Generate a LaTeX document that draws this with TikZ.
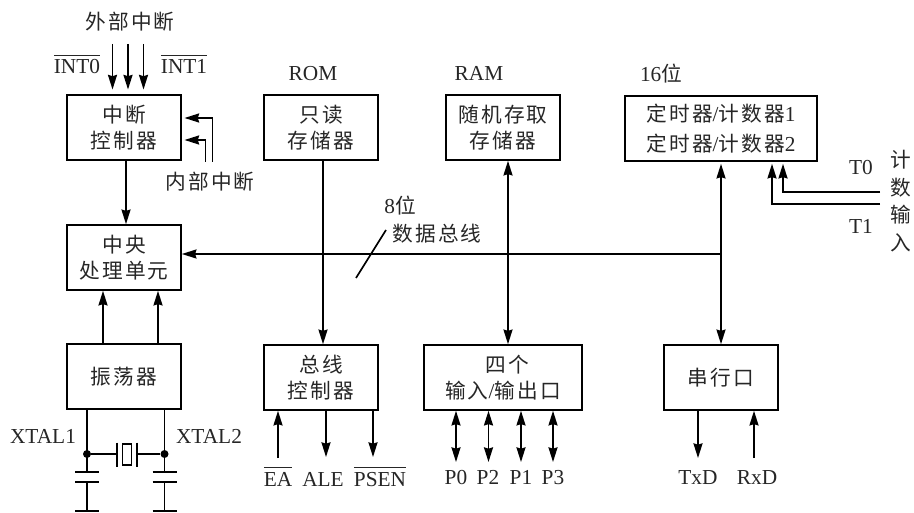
\documentclass[tikz,border=0pt]{standalone}
\usepackage{fontspec}
\setmainfont{Liberation Serif}
\newfontfamily\cjk[LetterSpace=10]{Noto Sans CJK SC}
\newcommand{\C}[1]{{\cjk\fontsize{15.5}{19}\selectfont #1}}
\newcommand{\Ov}[1]{$\overline{\mbox{\rule{0pt}{12.8pt}#1}}$}
\usetikzlibrary{arrows.meta}
\tikzset{
  box/.style={draw,line width=1.25pt,inner sep=0pt,align=center,minimum height=48.75pt,font=\fontsize{16}{19}\selectfont,text=black!85},
  bw/.style={box,minimum width=85.5pt},
  lbl/.style={inner sep=0pt,font=\fontsize{16}{18}\selectfont,text=black!85},
  lat/.style={lbl,anchor=base},
  wire/.style={line width=1.25pt},
  arr/.style={wire,-{Stealth[length=11pt,width=6.8pt,inset=1pt]}},
  darr/.style={wire,{Stealth[length=11pt,width=6.8pt,inset=1pt]}-{Stealth[length=11pt,width=6.8pt,inset=1pt]}},
  plate/.style={line width=1.25pt},
  junction/.style={circle,fill,inner sep=0pt,minimum size=6pt}
}
\begin{document}
\begin{tikzpicture}[x=0.75pt,y=-0.75pt]
\useasboundingbox (0,0) rectangle (914,513);
% boxes
\node[bw] (ctl) at (124,127.5) {\C{中断}\\\C{控制器}};
\node[bw] (cpu) at (124,257.5) {\C{中央}\\\C{处理单元}};
\node[bw] (osc) at (124,376.5) {\C{振荡器}};
\node[bw] (rom) at (321,127.5) {\C{只读}\\\C{存储器}};
\node[bw] (bus) at (321,377.5) {\C{总线}\\\C{控制器}};
\node[bw] (ram) at (503,127.5) {\C{随机存取}\\\C{存储器}};
\node[box,minimum width=118.5pt] (io) at (503,377.5) {\hspace*{7pt}\C{四个}\\\C{输入}/\C{输出口}};
\node[box,minimum width=144pt] (tmr) at (721,128.5) {\C{定时器}/\C{计数器}1\\[3pt]\C{定时器}/\C{计数器}2};
\node[bw] (ser) at (721,377.5) {\C{串行口}};
% labels
\node[lbl] (lext) at (130,22) {\C{外部中断}};
\node[lat] (lint0) at (77,74) {\Ov{INT0}};
\node[lat] (lint1) at (184,74) {\Ov{INT1}};
\node[lbl] (linner) at (210,182) {\C{内部中断}};
\node[lat] (lrom) at (313,81) {ROM};
\node[lat] (lram) at (479,81) {RAM};
\node[lat] (l16) at (661,82) {16\C{位}};
\node[lat] (l8) at (400,214) {8\C{位}};
\node[lbl] (ldata) at (437,234) {\C{数据总线}};
\node[lat] (lt0) at (861,175) {T0};
\node[lat] (lt1) at (861,234) {T1};
\node[lbl] (lc1) at (901,160) {\C{计}};
\node[lbl] (lc2) at (901,188) {\C{数}};
\node[lbl] (lc3) at (901,215) {\C{输}};
\node[lbl] (lc4) at (901,243) {\C{入}};
\node[lat] (lx1) at (43,443) {XTAL1};
\node[lat] (lx2) at (209,443) {XTAL2};
\node[lat] (lea) at (278,486) {\Ov{EA}};
\node[lat] (lale) at (323,486) {ALE};
\node[lat] (lpsen) at (380,486) {\Ov{PSEN}};
\node[lat] (lp0) at (456,484) {P0};
\node[lat] (lp2) at (488,484) {P2};
\node[lat] (lp1) at (521,484) {P1};
\node[lat] (lp3) at (553,484) {P3};
\node[lat] (ltx) at (698,484) {TxD};
\node[lat] (lrx) at (757,484) {RxD};
% external interrupts
\foreach \n/\x in {a/112.5,b/128,c/143.5}{
  \coordinate (e\n) at (\x,44);
  \draw[arr,shorten >=3.5pt] (e\n) -- (e\n |- ctl.north);
}
% internal interrupts
\coordinate (i1) at (212.5,162);
\coordinate (i2) at (205.5,162);
\draw[arr,shorten >=2pt] (i1) -- (212.5,118) -- (ctl.east |- 0,118);
\draw[arr,shorten >=2pt] (i2) -- (205.5,140) -- (ctl.east |- 0,140);
% main vertical
\draw[arr] (ctl.south) ++(2,0) coordinate (c1) -- (c1 |- cpu.north);
\coordinate (o1) at (103,0);\coordinate (o2) at (158,0);
\draw[arr] (o1 |- osc.north) -- (o1 |- cpu.south);
\draw[arr] (o2 |- osc.north) -- (o2 |- cpu.south);
\coordinate (r1) at (323,0);
\draw[arr] (r1 |- rom.south) -- (r1 |- bus.north);
\coordinate (r2) at (508,0);
\draw[darr] (r2 |- ram.south) -- (r2 |- io.north);
\draw[darr,shorten <=1.5pt] (tmr.south) -- (ser.north);
% data bus
\coordinate (bj) at (721,254);
\draw[arr] (bj) -- (cpu.east |- bj);
\coordinate (s1) at (356,278);\coordinate (s2) at (386,230);
\draw[wire] (s1) -- (s2);
% timer inputs
\coordinate (t0e) at (880,192);\coordinate (t1e) at (880,204);
\coordinate (t0x) at (783,192);\coordinate (t1x) at (772,204);
\draw[arr,shorten >=1.5pt] (t0e) -- (t0x) -- (t0x |- tmr.south);
\draw[arr,shorten >=1.5pt] (t1e) -- (t1x) -- (t1x |- tmr.south);
% bottom signals
\coordinate (bea) at (278,458);\coordinate (bale) at (326,457);\coordinate (bps) at (373,457);
\draw[arr] (bea) -- (bea |- bus.south);
\draw[arr] (bale |- bus.south) -- (bale);
\draw[arr] (bps |- bus.south) -- (bps);
\foreach \n/\x in {p/456,q/488.5,r/521,s/553}{
  \coordinate (\n e) at (\x,462);
  \draw[darr] (\n e |- io.south) -- (\n e);
}
\coordinate (btx) at (698,458);\coordinate (brx) at (754,458);
\draw[arr] (btx |- ser.south) -- (btx);
\draw[arr] (brx) -- (brx |- ser.south);
% crystal circuit
\coordinate (xl) at (87,454);\coordinate (xr) at (164.5,454);
\node[junction] (jl) at (xl) {};
\node[junction] (jr) at (xr) {};
\coordinate (cl1) at (87,472);\coordinate (cl2) at (87,482);\coordinate (cl3) at (87,511);
\coordinate (cr1) at (164.5,472);\coordinate (cr2) at (164.5,482);\coordinate (cr3) at (164.5,511);
\draw[wire] (xl |- osc.south) -- (cl1);
\draw[wire] (xr |- osc.south) -- (cr1);
\draw[wire] (cl2) -- (cl3);
\draw[wire] (cr2) -- (cr3);
\foreach \c in {cl1,cl2,cl3,cr1,cr2,cr3}{
  \draw[plate] ([xshift=-12*0.75pt]\c) -- ([xshift=12*0.75pt]\c);
}
\coordinate (xa) at (117,454);\coordinate (xb) at (137,454);
\draw[wire] (jl) -- (xa);
\draw[wire] (xb) -- (jr);
\draw[plate,line width=1.5pt] (117,442.5) -- (117,466.5);
\draw[plate,line width=1.5pt] (137,442.5) -- (137,466.5);
\draw[line width=1pt] (122.5,444) rectangle (131.5,465);
\end{tikzpicture}
\end{document}
